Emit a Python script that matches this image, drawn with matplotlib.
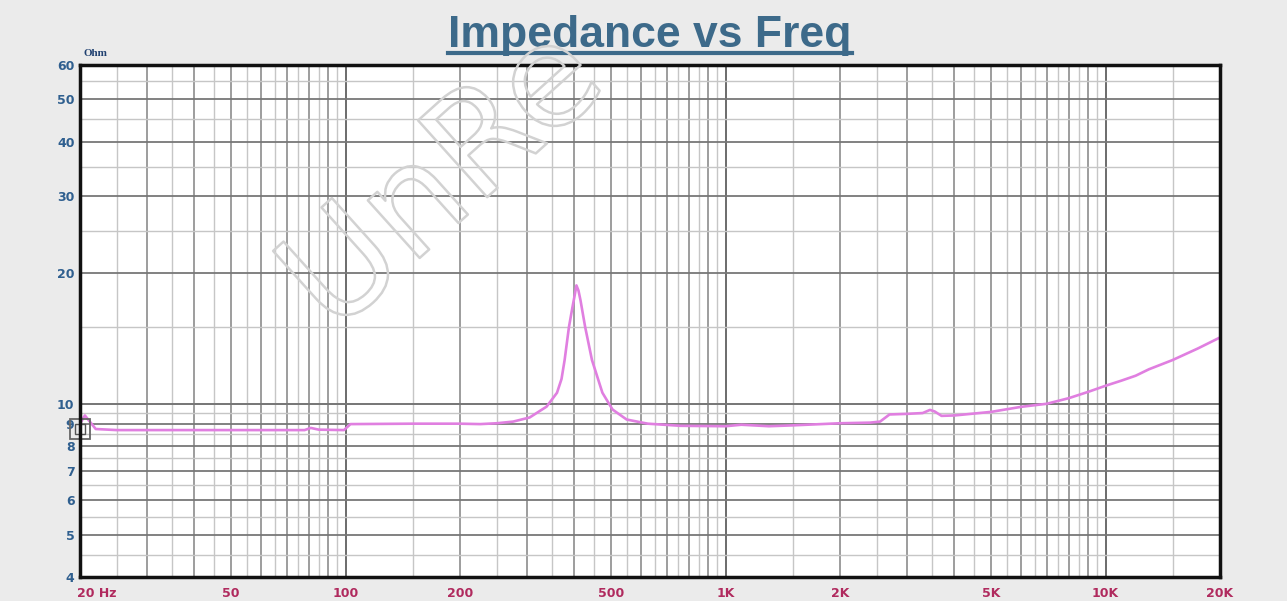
import numpy as np
import matplotlib
matplotlib.use("Agg")
import matplotlib.pyplot as plt
import matplotlib.patheffects as pe
from matplotlib.lines import Line2D
from matplotlib.transforms import ScaledTranslation

# ---------------- data ----------------
freq_hz = [20, 20.6, 22, 25, 40, 60, 78, 81, 85, 99, 103, 150, 200, 226, 250,
           276, 305, 338, 360, 370, 377, 387, 395, 400, 405, 410, 415, 427,
           445, 474, 504, 549, 624, 760, 1000, 1100, 1300, 1500, 2000, 2400,
           2550, 2700, 3000, 3300, 3450, 3550, 3700, 4000, 5000, 6000, 7000,
           8000, 9000, 10000, 11000, 12000, 13000, 15000, 17500, 20000]
impedance_ohm = [9.0, 9.4, 8.75, 8.7, 8.7, 8.7, 8.7, 8.8, 8.72, 8.7, 8.98, 9.0,
                 9.0, 8.98, 9.02, 9.1, 9.3, 9.85, 10.6, 11.4, 12.6, 15.0, 16.6,
                 17.6, 18.7, 18.2, 17.3, 15.0, 12.6, 10.6, 9.7, 9.2, 9.0, 8.9,
                 8.88, 8.95, 8.88, 8.92, 9.02, 9.05, 9.1, 9.45, 9.48, 9.52,
                 9.68, 9.6, 9.38, 9.4, 9.58, 9.84, 10.0, 10.3, 10.65, 11.0,
                 11.3, 11.6, 12.0, 12.6, 13.4, 14.2]

x_tick_vals = [20, 50, 100, 200, 500, 1000, 2000, 5000, 10000, 20000]
x_tick_labels = ["20 Hz", "50", "100", "200", "500", "1K", "2K", "5K", "10K", "20K"]
y_tick_vals = [4, 5, 6, 7, 8, 9, 10, 20, 30, 40, 50, 60]
y_tick_labels = ["4", "5", "6", "7", "8", "9", "10", "20", "30", "40", "50", "60"]

# ---------------- figure ----------------
W, H = 1287, 601
fig = plt.figure(figsize=(W / 100, H / 100), dpi=100, facecolor="#ebebeb")
L, R, T, B = 80, 1220, 65, 577
ax = fig.add_axes([L / W, 1 - B / H, (R - L) / W, (B - T) / H])
ax.set_facecolor("white")
ax.set_xscale("log")
ax.set_yscale("log")
ax.set_xlim(20, 20000)
ax.set_ylim(4, 60)

# grid: lines at multiples of 0.5*10^k
for k in range(1, 5):
    for m2 in range(2, 21):
        f = m2 * 10 ** k / 2
        if f <= 20 or f >= 20000:
            continue
        if m2 % 2 == 0:
            col, lw = ("#6e6e6e", 1.3) if m2 in (2, 20) else ("#8c8c8c", 1.2)
        else:
            col, lw = ("#c6c6c6", 1.0)
        ax.axvline(f, color=col, lw=lw, zorder=1)
for k in (0, 1):
    for m2 in range(2, 21):
        v = m2 * 10 ** k / 2
        if v <= 4 or v >= 60:
            continue
        if m2 % 2 == 0:
            col, lw = ("#777777", 1.3)
        else:
            col, lw = ("#c6c6c6", 1.0)
        ax.axhline(v, color=col, lw=lw, zorder=1)

# curve
ax.plot(freq_hz, impedance_ohm, color="#e07fe0", lw=1.9, zorder=5,
        solid_joinstyle="round")

# marker box at the left edge
ax.plot([20], [8.75], marker="s", ms=15, mfc="none", mec="#666666", mew=1.3,
        clip_on=False, zorder=7)
ax.plot([20], [8.75], marker="s", ms=7, mfc="none", mec="#555555", mew=1.0,
        clip_on=False, zorder=7)

# ticks
ax.set_xticks(x_tick_vals)
ax.set_xticklabels(x_tick_labels)
ax.xaxis.set_minor_locator(plt.NullLocator())
ax.set_yticks(y_tick_vals)
ax.set_yticklabels(y_tick_labels)
ax.yaxis.set_minor_locator(plt.NullLocator())
ax.tick_params(axis="both", which="both", length=0)
ax.tick_params(axis="x", pad=7)
ax.tick_params(axis="y", pad=4)
for lab in ax.get_xticklabels():
    lab.set_fontfamily("DejaVu Sans")
    lab.set_fontweight("bold")
    lab.set_fontsize(9)
    lab.set_color("#b02a5e")
for lab in ax.get_yticklabels():
    lab.set_fontfamily("DejaVu Sans")
    lab.set_fontweight("bold")
    lab.set_fontsize(9)
    lab.set_color("#2f5f8f")
first = ax.get_xticklabels()[0]
first.set_horizontalalignment("left")
first.set_transform(first.get_transform() + ScaledTranslation(-3 / 100, 0, fig.dpi_scale_trans))

for side, sp in ax.spines.items():
    sp.set_color("#111111")
    sp.set_linewidth(2.5)
    sp.set_zorder(8)

# unit label
fig.text(83 / W, 1 - 54 / H, "Ohm", fontsize=8, fontweight="bold",
         family="Liberation Serif", color="#1f4070", va="center", ha="left")

# title with underline
title = fig.text(650 / W, 1 - 35 / H, "Impedance vs Freq", fontsize=32,
                 fontweight="bold", family="Liberation Sans", color="#3d6a8a",
                 ha="center", va="center")
fig.canvas.draw()
bb = title.get_window_extent()
uy = 1 - 53 / H
fig.add_artist(Line2D([bb.x0 / W, bb.x1 / W], [uy, uy], color="#3d6a8a", lw=3))

# watermark (outlined text)
fig.text(445 / W, 1 - 182 / H, "UnRe", fontsize=102, family="DejaVu Sans",
         rotation=42, rotation_mode="anchor", ha="center", va="center",
         color=(1, 1, 1, 0), zorder=20,
         path_effects=[pe.Stroke(linewidth=1.8, foreground="#d2d2d2")])

fig.savefig("out.png", dpi=100, facecolor=fig.get_facecolor())
